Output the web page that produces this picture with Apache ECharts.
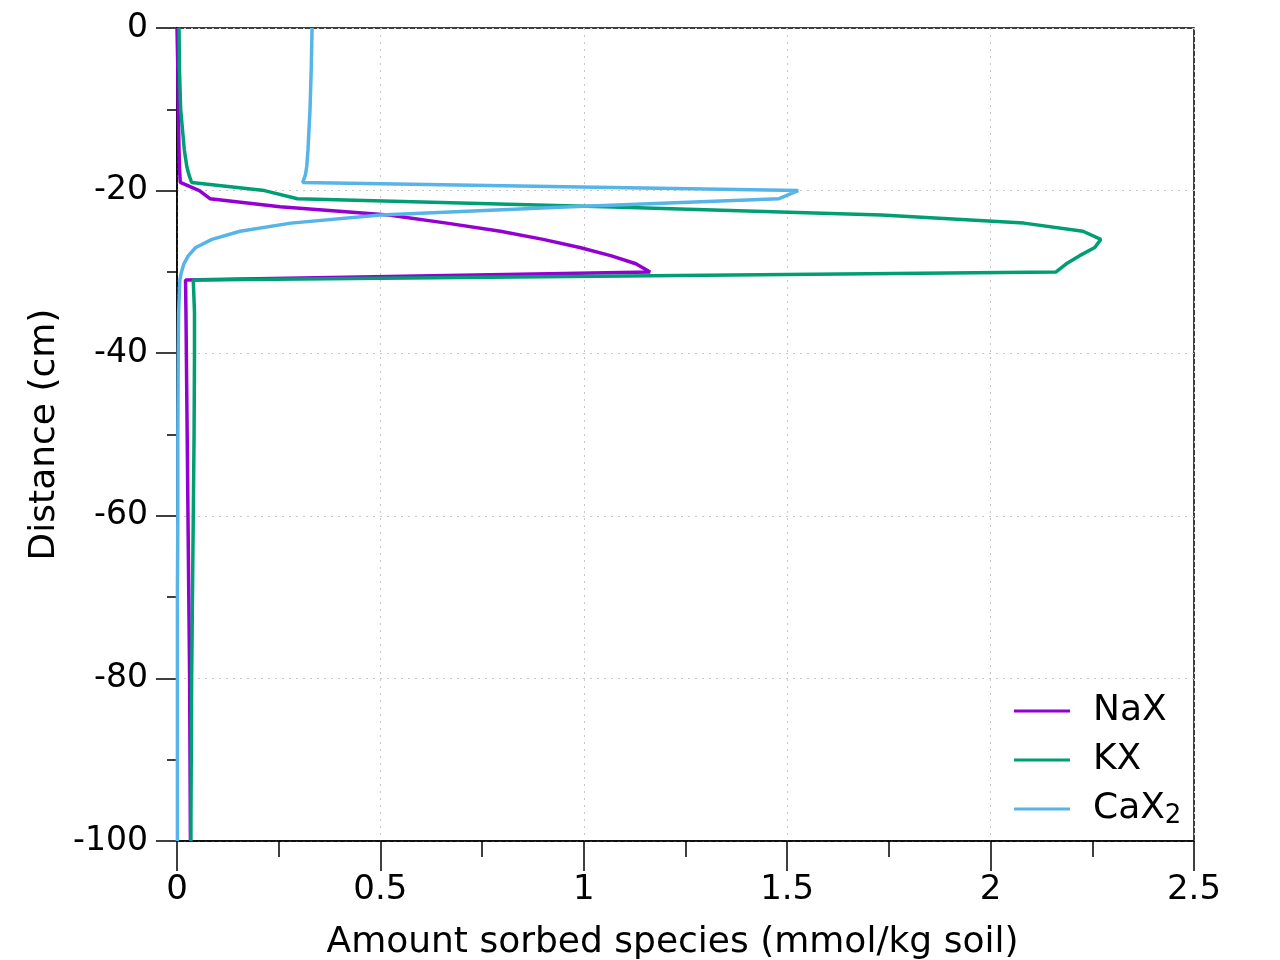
<!DOCTYPE html>
<html>
<head>
<meta charset="utf-8">
<script src="https://cdn.jsdelivr.net/npm/echarts@6/dist/echarts.min.js"></script>
<style>
html,body{margin:0;padding:0;background:#fff;}
#chart{width:1280px;height:960px;}
</style>
</head>
<body>
<div id="chart"></div>
<script>
// Depth (cm) at which values were read
var depth = [0,-5,-10,-15,-17,-18,-19,-20,-21,-22,-23,-24,-25,-26,-27,-28,-29,-30,-31,-35,-40,-50,-60,-70,-80,-90,-100];
// Amount sorbed (mmol/kg soil)
var NaX  = [0.000,0.002,0.003,0.005,0.006,0.007,0.008,0.055,0.081,0.253,0.520,0.663,0.795,0.900,0.990,1.066,1.128,1.163,0.021,0.022,0.023,0.025,0.027,0.029,0.031,0.032,0.033];
var KX   = [0.005,0.006,0.009,0.018,0.024,0.029,0.036,0.215,0.296,1.050,1.732,2.082,2.227,2.271,2.256,2.219,2.186,2.161,0.040,0.043,0.043,0.042,0.040,0.038,0.036,0.035,0.034];
var CaX2 = [0.332,0.330,0.327,0.322,0.319,0.316,0.309,1.527,1.480,0.970,0.500,0.280,0.155,0.086,0.046,0.028,0.017,0.011,0.007,0.004,0.003,0.002,0.002,0.001,0.001,0.001,0.001];
var seriesNames = ['NaX','KX','CaX2'];
var seriesColors = ['#9400D3','#009E73','#56B4E9'];
var xTitle = 'Amount sorbed species (mmol/kg soil)';
var yTitle = 'Distance (cm)';

function pairs(vals){ return vals.map(function(v,i){ return [v, depth[i]]; }); }
var allVals = [NaX, KX, CaX2];

var FONT = 'DejaVu Sans';
var chart = echarts.init(document.getElementById('chart'));
chart.setOption({
  animation:false,
  backgroundColor:'#fff',
  textStyle:{fontFamily:FONT, color:'#000'},
  grid:{left:177, top:28, right:86, bottom:119, containLabel:false, outerBoundsMode:'none',
        show:true, borderColor:'#000', borderWidth:1.5, backgroundColor:'transparent'},
  xAxis:{
    type:'value', min:0, max:2.5, interval:0.5,
    name:xTitle, nameLocation:'middle', nameGap:84,
    nameTextStyle:{fontSize:36, color:'#000', fontFamily:FONT, padding:[0,26,0,0]},
    axisLine:{show:true, onZero:false, lineStyle:{color:'#000', width:1.5}},
    axisTick:{show:true, inside:false, length:30, lineStyle:{color:'#000', width:1.5}},
    minorTick:{show:true, splitNumber:2, length:16, lineStyle:{color:'#000', width:1.5}},
    axisLabel:{fontSize:34, color:'#000', margin:32, fontFamily:FONT},
    splitLine:{show:true, lineStyle:{color:'#c8c8c8', type:[2,5], width:1}},
    minorSplitLine:{show:false}
  },
  yAxis:{
    type:'value', min:-100, max:0, interval:20,
    name:yTitle, nameLocation:'middle', nameGap:81, nameRotate:90,
    nameTextStyle:{fontSize:36, color:'#000', fontFamily:FONT},
    axisLine:{show:true, onZero:false, lineStyle:{color:'#000', width:1.5}},
    axisTick:{show:true, inside:false, length:21, lineStyle:{color:'#000', width:1.5}},
    minorTick:{show:true, splitNumber:2, length:10, lineStyle:{color:'#000', width:1.5}},
    axisLabel:{fontSize:33, color:'#000', margin:29, fontFamily:FONT},
    splitLine:{show:true, lineStyle:{color:'#c8c8c8', type:[2,5], width:1}}
  },
  legend:{
    orient:'vertical', left:1014, top:691, padding:0,
    icon:'rect', itemWidth:56, itemHeight:3, itemGap:9,
    data:seriesNames,
    textStyle:{fontSize:36, color:'#000', fontFamily:FONT, lineHeight:40, padding:[0,0,0,18],
      rich:{sub:{fontSize:26, verticalAlign:'bottom', padding:[20,0,0,0], fontFamily:FONT, color:'#000'}}},
    formatter:function(n){ return n==='CaX2' ? 'CaX{sub|2}' : n; }
  },
  series: seriesNames.map(function(n,i){
    return {
      name:n, type:'line', data:pairs(allVals[i]), symbol:'none', showSymbol:false,
      lineStyle:{color:seriesColors[i], width:3.5}, itemStyle:{color:seriesColors[i]},
      clip:true
    };
  })
});
</script>
</body>
</html>
